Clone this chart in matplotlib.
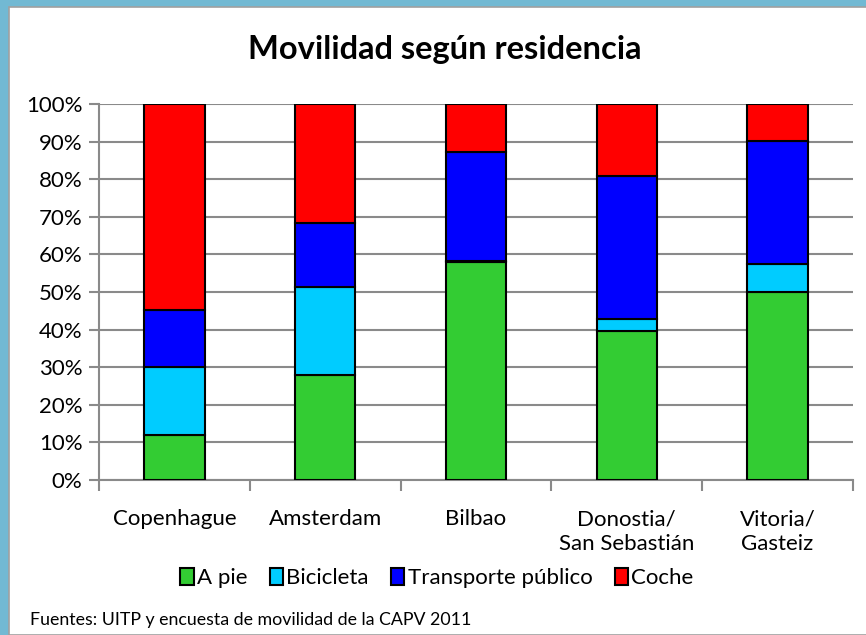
import matplotlib.pyplot as plt
from matplotlib.patches import Rectangle
import numpy as np

ciudades = ["Copenhague", "Amsterdam", "Bilbao", "Donostia/\nSan Sebastián", "Vitoria/\nGasteiz"]
a_pie = [12.1, 27.8, 58.0, 39.6, 50.0]
bicicleta = [17.9, 23.6, 0.3, 3.1, 7.4]
transporte = [15.2, 17.0, 29.0, 38.2, 32.8]
coche = [54.8, 31.6, 12.7, 19.1, 9.8]

series = [
    ("A pie", a_pie, "#33CC33"),
    ("Bicicleta", bicicleta, "#00CCFF"),
    ("Transporte público", transporte, "#0000FF"),
    ("Coche", coche, "#FF0000"),
]

plt.rcParams["font.family"] = ["Lato", "DejaVu Sans"]

fig = plt.figure(figsize=(8.66, 6.35), dpi=100)

# outer frame like the office chart object
fig.patches.append(Rectangle((0, 0), 1, 1, transform=fig.transFigure,
                             facecolor="#72B9D3", edgecolor="none", zorder=-3))
fig.patches.append(Rectangle((9 / 866, 0), 1, 1 - 7 / 635, transform=fig.transFigure,
                             facecolor="white", edgecolor="#a0a0a0", lw=1.2, zorder=-2))

ax = fig.add_axes([99 / 866, 1 - 480 / 635, 754 / 866, 376 / 635])

x = np.arange(len(ciudades))
bottom = np.zeros(len(ciudades))
for label, vals, color in series:
    ax.bar(x, vals, bottom=bottom, width=0.4, color=color, edgecolor="black",
           linewidth=1.5, label=label, zorder=3)
    bottom += np.array(vals)

ax.set_xlim(-0.5, len(ciudades) - 0.5)
ax.set_ylim(0, 100)
ax.set_yticks(range(0, 101, 10))
ax.set_yticklabels([f"{v}%" for v in range(0, 101, 10)], fontsize=16)
ax.grid(axis="y", color="#8a8a8a", linewidth=1.5, zorder=0)

ax.set_xticks(x)
ax.set_xticklabels(ciudades, fontsize=16, linespacing=1.3)
ax.tick_params(axis="x", length=0, pad=21)
ax.set_xticks(np.arange(-0.5, len(ciudades)), minor=True)
ax.tick_params(axis="x", which="minor", length=8, width=1.5, color="#8a8a8a", direction="out")
ax.tick_params(axis="y", length=7, width=1.5, color="#8a8a8a", pad=5)

for s in ["top", "right"]:
    ax.spines[s].set_visible(False)
ax.spines["left"].set_color("#8a8a8a")
ax.spines["left"].set_linewidth(1.5)
ax.spines["bottom"].set_color("#8a8a8a")
ax.spines["bottom"].set_linewidth(1.5)

fig.text(445 / 866, 1 - 50 / 635, "Movilidad según residencia", ha="center", va="center",
         fontsize=23.5, fontweight="bold")

fig.legend(loc="center", bbox_to_anchor=(437 / 866, 1 - 578 / 635), ncol=4, frameon=False,
           fontsize=16, handlelength=0.6, handleheight=0.8, handletextpad=0.15,
           columnspacing=1.0)

fig.text(30 / 866, 1 - 620 / 635, "Fuentes: UITP y encuesta de movilidad de la CAPV 2011",
         ha="left", va="center", fontsize=12.8)

fig.savefig("out.png", dpi=100)
